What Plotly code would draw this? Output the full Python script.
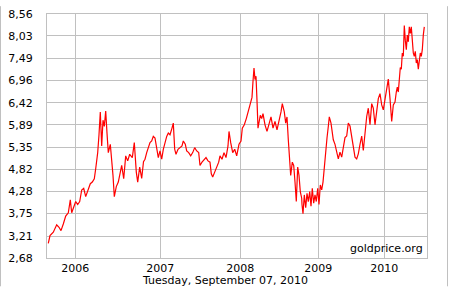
import plotly.graph_objects as go

# position along the time axis (chart units) and price
t = [1.3, 3, 6.3, 9.7, 12, 14, 16.3, 18.7, 21.3, 23.3, 24.7, 27.3, 28.7, 30.7, 32.7, 34.7, 36.7, 38.7,
     41.3, 43.3, 45.3, 47.3, 48.7, 50.7, 52, 53.3, 54.7, 56, 57.3, 58.7, 60, 61.3, 63.3, 64.7, 66,
     67.3, 69.3, 71.3, 73.3, 74.7, 76.7, 78.7, 80.7, 82.7, 85.3, 87.3, 89.3, 90.7, 92.7, 94.7, 96.5,
     98, 99.7, 101.3, 103, 104.7, 106.3, 108, 109.7, 111.3, 113, 114.7, 116.3, 118, 119.7, 121.3,
     123, 125, 126.3, 127.7, 129, 131, 133, 135, 136.3, 138.3, 139.7, 141.7, 143.7, 145.7, 147.7,
     149.7, 151.7, 153, 155, 157, 159, 161, 163, 164.3, 165.7, 167.7, 169.7, 171.7, 173, 175, 177,
     179, 181, 182, 183.7, 185.7, 187.7, 189.7, 192, 194, 195.3, 197.3, 199.3, 201.3, 203.3, 205,
     206, 207, 208, 209, 210, 211, 213.3, 214.7, 216, 218, 220, 222, 224, 226, 228, 230, 232, 234,
     235.3, 237.3, 238.7, 240, 241.3, 242.3, 243.7, 245.3, 246.7, 248, 249.3, 250.7, 252, 253.3,
     254.7, 255, 256, 257.3, 258.7, 260, 261.3, 262.7, 264, 265.3, 266.7, 268, 269.3, 270.7, 272,
     273.3, 274.7, 276, 277.3, 278.7, 280, 281.3, 282.3, 284, 285.3, 286.3, 288, 289.7, 291.3, 293,
     294.7, 296.3, 298, 299.7, 301.3, 303, 304.7, 306.3, 308, 309.7, 311.3, 313, 314.7, 316.3, 318,
     319.7, 321.3, 323, 324.7, 326.3, 328, 329.7, 331.3, 333, 334.7, 336.3, 338, 339.7, 341.3, 343,
     344.7, 346.3, 348, 349.3, 350.3, 351.3, 352.3, 353.3, 354.3, 355.3, 356.3, 357.3, 358.3, 359.3,
     360.3, 361.3, 362.3, 363.3, 364.3, 365.3, 366.3, 367.3, 368.3, 369.3, 370.3, 371.3, 372.3,
     373.3, 374.3, 375.3, 376.3, 377.3, 378.7, 380]
price = [3.03, 3.22, 3.30, 3.48, 3.42, 3.34, 3.50, 3.69, 3.77, 4.08, 3.77, 3.93, 4.04, 3.97, 4.04,
         4.32, 4.36, 4.16, 4.32, 4.47, 4.51, 4.59, 4.83, 5.22, 5.65, 6.20, 5.38, 6.00, 5.85, 6.22,
         5.69, 5.22, 5.42, 5.06, 4.67, 4.16, 4.40, 4.51, 4.79, 4.91, 4.59, 5.14, 5.02, 5.18, 5.10,
         5.46, 4.75, 4.51, 4.87, 4.60, 5.00, 5.06, 5.22, 5.34, 5.46, 5.50, 5.61, 5.57, 5.30, 5.10,
         5.26, 5.06, 5.30, 5.50, 5.61, 5.69, 5.65, 5.81, 5.93, 5.30, 5.18, 5.30, 5.34, 5.38, 5.50,
         5.42, 5.26, 5.22, 5.14, 5.22, 5.34, 5.26, 5.22, 4.91, 4.99, 5.06, 5.10, 5.02, 4.99, 4.71,
         4.63, 4.75, 4.87, 4.99, 5.14, 5.06, 5.22, 5.10, 5.38, 5.73, 5.46, 5.22, 5.30, 5.14, 5.42,
         5.50, 5.81, 5.89, 6.04, 6.24, 6.40, 6.55, 6.94, 7.26, 6.98, 7.06, 6.47, 5.81, 6.12, 6.04,
         6.16, 5.89, 5.73, 5.89, 6.08, 5.81, 5.97, 5.77, 5.97, 6.20, 6.40, 6.20, 5.93, 6.08, 5.53,
         5.22, 4.67, 4.99, 4.91, 4.51, 4.04, 4.87, 4.67, 4.28, 4.12, 3.97, 3.75, 4.20, 3.89, 4.24,
         4.04, 4.28, 3.93, 4.36, 4.00, 4.20, 4.04, 4.36, 3.97, 4.44, 4.32, 4.51, 4.91, 5.30, 5.57,
         5.85, 6.08, 5.93, 5.65, 5.53, 5.42, 5.27, 5.07, 5.23, 5.11, 5.34, 5.58, 5.62, 5.93, 5.86,
         5.58, 5.34, 5.11, 5.07, 5.19, 5.42, 5.62, 5.27, 5.78, 6.09, 6.29, 5.89, 6.40, 6.29, 5.89,
         6.21, 6.52, 6.64, 6.37, 6.25, 6.48, 6.76, 6.99, 6.52, 5.97, 6.37, 6.44, 6.68, 6.80, 6.68,
         7.03, 7.27, 7.23, 7.62, 7.54, 8.28, 7.93, 7.70, 8.05, 7.89, 8.25, 8.09, 8.25, 7.93, 7.62,
         7.54, 7.66, 7.38, 7.46, 7.23, 7.46, 7.62, 7.54, 7.70, 8.05, 8.25]

year_pos = [28.3, 113.3, 193.3, 271.3, 337.3]
year_labels = ["2006", "2007", "2008", "2009", "2010"]
y_ticks = [2.68, 3.21, 3.75, 4.28, 4.82, 5.35, 5.89, 6.42, 6.96, 7.49, 8.03, 8.56]
y_labels = ["2,68", "3,21", "3,75", "4,28", "4,82", "5,35", "5,89", "6,42", "6,96", "7,49", "8,03", "8,56"]

n = min(len(t), len(price))
t, price = t[:n], price[:n]

grid = "#c0c0c0"
font = dict(family="DejaVu Sans", size=11, color="#000000")

fig = go.Figure(go.Scatter(x=t, y=price, mode="lines",
                           line=dict(color="#ff0000", width=1.2), hoverinfo="skip"))

fig.update_layout(
    width=450, height=287,
    margin=dict(l=47, r=23, t=8, b=29),
    paper_bgcolor="#ffffff", plot_bgcolor="#ffffff",
    showlegend=False, font=font,
    xaxis=dict(range=[0, 380], tickvals=year_pos, ticktext=year_labels,
               showgrid=True, gridcolor=grid, gridwidth=1, zeroline=False,
               showline=True, linecolor=grid, linewidth=1, mirror=True,
               ticks="", tickfont=font),
    yaxis=dict(range=[2.68, 8.56], tickvals=y_ticks, ticktext=y_labels,
               showgrid=True, gridcolor=grid, gridwidth=1, zeroline=False,
               showline=True, linecolor=grid, linewidth=1, mirror=True,
               ticks="outside", ticklen=11, tickcolor="rgba(0,0,0,0)", tickfont=font),
    annotations=[
        dict(text="goldprice.org", xref="paper", yref="paper", x=0.995, y=0.005,
             xanchor="right", yanchor="bottom", showarrow=False, font=font),
        dict(text="Tuesday, September 07, 2010", xref="paper", yref="paper",
             x=(225 - 47) / 380, y=-(281.5 - 258) / 250, xanchor="center", yanchor="middle",
             showarrow=False, font=font),
    ],
    shapes=[
        dict(type="line", xref="paper", yref="paper", x0=(447.5 - 47) / 380, x1=(447.5 - 47) / 380,
             y0=-29 / 250, y1=1 + 8 / 250, line=dict(color=grid, width=1)),
        dict(type="line", xref="paper", yref="paper", x0=(0.5 - 47) / 380, x1=(0.5 - 47) / 380,
             y0=-29 / 250, y1=1 + 8 / 250, line=dict(color=grid, width=1)),
    ],
)

fig.write_html("out.html")
